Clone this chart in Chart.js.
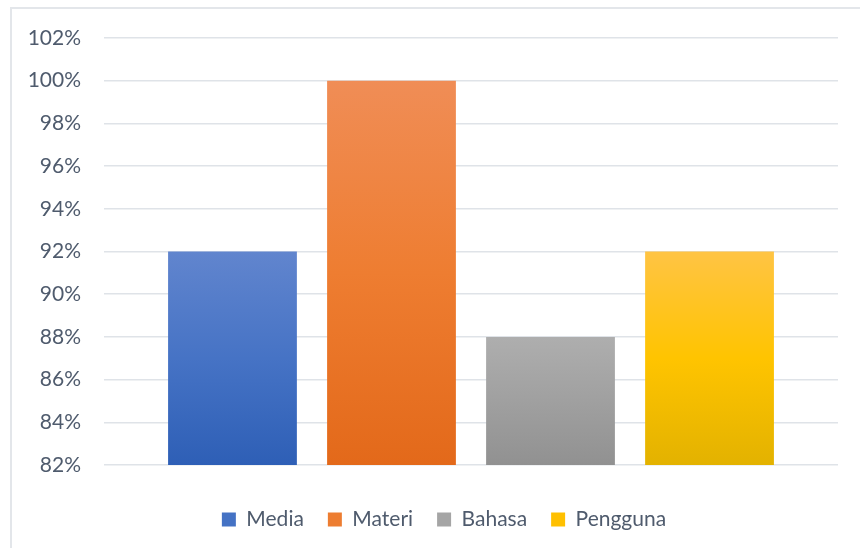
<!DOCTYPE html>
<html>
<head>
<meta charset="utf-8">
<script src="https://cdn.jsdelivr.net/npm/chart.js@4/dist/chart.umd.min.js"></script>
<style>
    html, body { margin: 0; padding: 0; background: #fff; overflow: hidden; }
    .frame {
        position: absolute; left: 10px; top: 7px;
        width: 900px; height: 600px;
        border: 2px solid #e3e6ea;
        pointer-events: none;
    }
    .chart-box { position: absolute; left: 0; top: 0; width: 860px; height: 540px; }
</style>
</head>
<body>
<div class="chart-box"><canvas id="scoreChart"></canvas></div>
<div class="frame"></div>
<script>
const categories = ['Media', 'Materi', 'Bahasa', 'Pengguna'];
const scores = [92, 100, 88, 92];
const yTicks = [82, 84, 86, 88, 90, 92, 94, 96, 98, 100, 102];

// top / middle / bottom of each bar's gradient
const gradientStops = [
    ['#6185ce', '#4673c5', '#2e5fb6'],
    ['#f08d56', '#ee7d31', '#e3691a'],
    ['#aeaeae', '#a0a0a0', '#919191'],
    ['#ffc444', '#ffc400', '#e3b200']
];
const legendColors = ['#4472c4', '#ed7d31', '#a5a5a5', '#ffc000'];

const textColor = '#4f5b6d';
const fontFamily = 'Lato, "Open Sans", sans-serif';

document.addEventListener('DOMContentLoaded', () => {
    initScoreChart();
});

function barGradient(context) {
    const i = context.dataIndex;
    const chart = context.chart;
    const { ctx, chartArea, scales } = chart;
    if (!chartArea) return legendColors[i];

    const top = scales.y.getPixelForValue(scores[i]);
    const bottom = scales.y.getPixelForValue(yTicks[0]);
    const g = ctx.createLinearGradient(0, top, 0, bottom);
    g.addColorStop(0, gradientStops[i][0]);
    g.addColorStop(0.5, gradientStops[i][1]);
    g.addColorStop(1, gradientStops[i][2]);
    return g;
}

// legend sits a bit right of the plot centre, like the original
const legendShift = {
    id: 'legendShift',
    afterLayout(chart) {
        if (!chart.legend) return;
        chart.legend.left += 25;
        chart.legend.right += 25;
    }
};

function initScoreChart() {
    const ctx = document.getElementById('scoreChart')?.getContext('2d');
    if (!ctx) return;

    new Chart(ctx, {
        type: 'bar',
        data: {
            labels: categories,
            datasets: [
                {
                    data: categories.map((c, i) => ({ x: i, y: scores[i] })),
                    backgroundColor: barGradient,
                    borderWidth: 0,
                    barPercentage: 0.81,
                    categoryPercentage: 1
                }
            ]
        },
        plugins: [legendShift],
        options: {
            responsive: true,
            maintainAspectRatio: false,
            animation: false,
            layout: {
                padding: { top: 38, right: 22, bottom: 0, left: 0 }
            },
            plugins: {
                tooltip: { enabled: false },
                legend: {
                    display: true,
                    position: 'bottom',
                    labels: {
                        boxWidth: 14,
                        boxHeight: 14,
                        padding: 24,
                        color: textColor,
                        font: { family: fontFamily, size: 21 },
                        generateLabels: () => categories.map((c, i) => ({
                            text: c,
                            fillStyle: legendColors[i],
                            strokeStyle: legendColors[i],
                            lineWidth: 0,
                            fontColor: textColor,
                            index: i,
                            datasetIndex: 0
                        }))
                    }
                }
            },
            scales: {
                x: {
                    type: 'linear',
                    min: -0.808,
                    max: 3.808,
                    offset: false,
                    afterBuildTicks: scale => {
                        scale.ticks = categories.map((c, i) => ({ value: i }));
                    },
                    grid: { display: false },
                    border: { display: false },
                    ticks: { display: false },
                    afterFit: scale => { scale.height = 20; }
                },
                y: {
                    min: yTicks[0],
                    max: yTicks[yTicks.length - 1],
                    afterBuildTicks: scale => {
                        scale.ticks = yTicks.map(v => ({ value: v }));
                    },
                    afterFit: scale => { scale.width = 104; },
                    grid: { color: '#dfe3e8', lineWidth: 1.5, drawTicks: false },
                    border: { display: false },
                    ticks: {
                        padding: 23,
                        color: textColor,
                        font: { family: fontFamily, size: 21 },
                        callback: v => v + '%'
                    }
                }
            }
        }
    });
}
</script>
</body>
</html>
